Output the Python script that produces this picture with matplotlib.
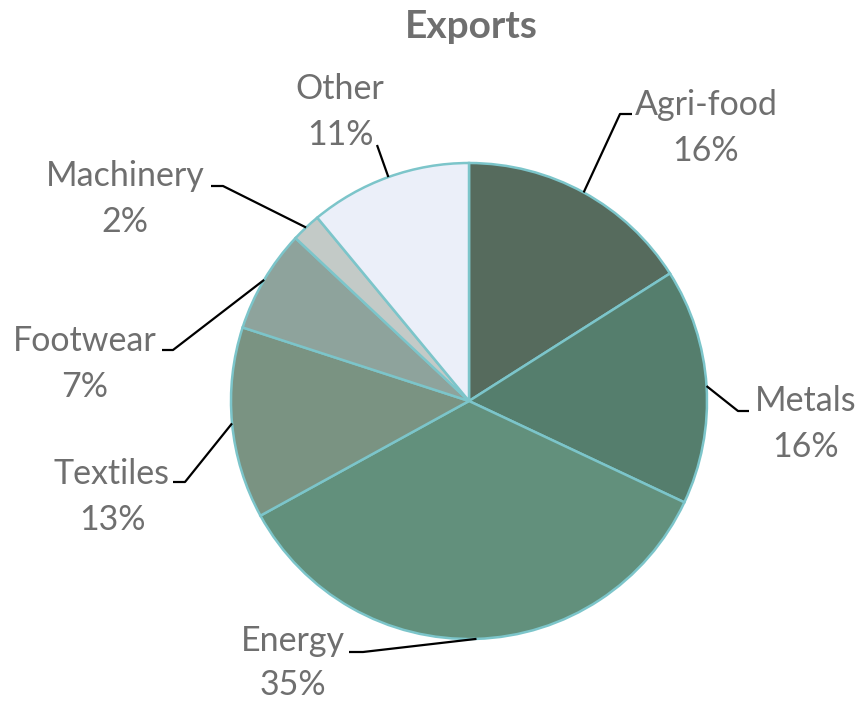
import numpy as np
import matplotlib
matplotlib.use("Agg")
import matplotlib.pyplot as plt

# ---- data ----
categories = ["Agri-food", "Metals", "Energy", "Textiles", "Footwear", "Machinery", "Other"]
shares = [16, 16, 35, 13, 7, 2, 11]
colors = ["#566b5d", "#557e6d", "#62907c", "#7a9382", "#8ea39c", "#c3cac7", "#ebeff9"]
title = "Exports"

# ---- layout (pixel space, y measured from top) ----
W, H = 859, 703
center_px = (469, 401)
radius_px = 238
# elbow points (x, y_from_top) and label-end points for leader lines
elbows = {
    "Agri-food": [(620, 114), (632, 114)],
    "Metals": [(738, 411), (749, 411)],
    "Energy": [(363, 652), (349, 652)],
    "Textiles": [(185, 482), (173, 482)],
    "Footwear": [(173, 350), (162, 350)],
    "Machinery": [(223, 186), (211, 186)],
    "Other": [(377, 145)],
}
label_pos = {
    "Agri-food": (706, 128),
    "Metals": (806, 424),
    "Energy": (293, 663),
    "Textiles": (112, 497),
    "Footwear": (85, 364),
    "Machinery": (125, 199),
    "Other": (340, 112),
}

txt_color = "#6f6f6f"
edge_color = "#7cc5ca"
font = ["Lato", "DejaVu Sans"]

fig = plt.figure(figsize=(W / 100, H / 100), dpi=100)
ax = fig.add_axes([0, 0, 1, 1])
ax.set_xlim(0, W)
ax.set_ylim(0, H)
ax.set_aspect("equal")
ax.axis("off")

cx, cy = center_px[0], H - center_px[1]
wedges, _ = ax.pie(shares, colors=colors, startangle=90, counterclock=False,
                   center=(cx, cy), radius=radius_px, frame=True,
                   wedgeprops=dict(edgecolor=edge_color, linewidth=1.8))
ax.set_xlim(0, W)
ax.set_ylim(0, H)
ax.axis("off")

for w, cat, val in zip(wedges, categories, shares):
    mid = np.deg2rad((w.theta1 + w.theta2) / 2)
    ax_pt = (cx + radius_px * np.cos(mid), cy + radius_px * np.sin(mid))
    pts = [ax_pt] + [(x, H - y) for x, y in elbows[cat]]
    xs, ys = zip(*pts)
    ax.plot(xs, ys, color="black", lw=1.6, solid_capstyle="butt", zorder=3)
    lx, ly = label_pos[cat]
    ls = 1.45 if cat == "Energy" else 1.52
    ax.text(lx, H - ly, f"{cat}\n{val}%", ha="center", va="center",
            fontsize=24.5, color=txt_color, family=font, linespacing=ls)

ax.text(471, H - 26, title, ha="center", va="center", fontsize=28,
        fontweight="bold", color=txt_color, family=font)

fig.savefig("out.png", dpi=100, facecolor="white")
